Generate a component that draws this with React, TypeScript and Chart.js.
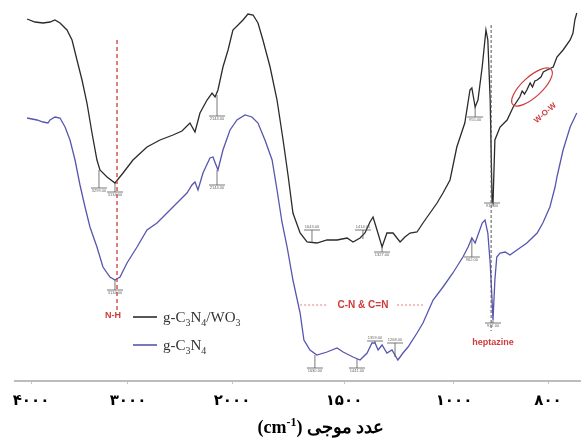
import React, { useEffect, useRef } from 'react';
import { Chart, LinearScale, registerables } from 'chart.js';

// ---------------- data ----------------
const X_TICKS = [4000, 3000, 2000, 1500, 1000, 800];
// the printed axis is not linear: tick labels are spaced almost evenly
const X_KNOT_VALUES = [4165, 4000, 3000, 2000, 1500, 1000, 800, 730];
const X_KNOT_FRACTIONS = [0, 0.0283, 0.1996, 0.3834, 0.5813, 0.7756, 0.9417, 1];

// g-C3N4/WO3 (black)
const COMPOSITE_WAVENUMBER = [
  4041, 3959, 3876, 3804, 3753, 3701, 3629, 3577, 3526, 3474, 3423, 3371, 3320, 3289, 3216, 3134,
  3051, 2952, 2817, 2692, 2567, 2481, 2404, 2356, 2308, 2240, 2192, 2163, 2135, 2087, 2038, 1996,
  1973, 1951, 1929, 1906, 1884, 1862, 1830, 1799, 1772, 1750, 1728, 1696, 1665, 1621, 1576, 1531,
  1486, 1459, 1427, 1405, 1382, 1368, 1350, 1327, 1305, 1277, 1245, 1223, 1200, 1168, 1141, 1109,
  1077, 1050, 1018, 994, 977, 966, 962, 955, 949, 940, 932, 928, 923, 919, 917, 913, 902, 887, 874,
  860, 855, 850, 845, 838, 833, 828, 823, 815, 810, 802, 789, 781, 768, 753, 747, 743, 739,
];
const COMPOSITE_T = [
  362, 359, 358, 359, 361, 358, 351, 341, 321, 301, 278, 248, 221, 211, 204, 198,
  208, 221, 234, 241, 246, 250, 258, 249, 268, 281, 288, 284, 291, 314, 331, 351,
  356, 361, 367, 366, 358, 341, 314, 281, 241, 206, 168, 148, 139, 138, 141, 141,
  143, 139, 143, 148, 159, 164, 151, 134, 148, 148, 139, 144, 148, 149, 158, 168,
  178, 188, 201, 234, 258, 291, 293, 274, 281, 314, 351, 341, 281, 181, 178, 241, 254, 261, 274,
  284, 290, 287, 291, 298, 294, 300, 301, 304, 309, 311, 314, 324, 331, 341, 348, 361, 368,
];

// g-C3N4 (blue)
const PURE_WAVENUMBER = [
  4041, 3938, 3876, 3825, 3804, 3753, 3701, 3649, 3598, 3546, 3495, 3443, 3392, 3320, 3258, 3186,
  3134, 3082, 3010, 2913, 2817, 2721, 2625, 2529, 2433, 2385, 2356, 2327, 2279, 2212, 2183, 2135,
  2087, 2019, 1978, 1942, 1911, 1884, 1853, 1821, 1799, 1777, 1754, 1728, 1696, 1679, 1652, 1621,
  1576, 1531, 1504, 1459, 1427, 1395, 1373, 1359, 1345, 1327, 1305, 1282, 1255, 1232, 1209, 1168,
  1141, 1109, 1095, 1050, 1005, 981, 970, 962, 955, 949, 940, 934, 928, 923, 919, 917, 913, 909,
  902, 891, 881, 866, 845, 823, 811, 796, 785, 781, 768, 753, 739,
];
const PURE_T = [
  263, 261, 259, 258, 261, 264, 263, 254, 241, 221, 196, 174, 154, 134, 114, 104,
  101, 104, 118, 134, 151, 158, 168, 178, 188, 196, 199, 191, 208, 223, 224, 211,
  231, 251, 261, 266, 264, 258, 241, 221, 191, 159, 134, 101, 68, 41, 31, 26,
  29, 33, 29, 24, 21, 28, 38, 38, 31, 36, 28, 31, 21, 28, 34, 48,
  58, 74, 81, 94, 108, 124, 134, 143, 138, 146, 158, 161, 148, 118, 81, 61, 101, 124,
  128, 129, 126, 131, 138, 148, 158, 174, 194, 204, 231, 254, 268,
];

// small peak markers: wavenumber, curve value, bar value
const COMPOSITE_PEAK_X = [3299, 3134, 2144, 1643, 1414, 1327, 955, 919];
const COMPOSITE_PEAK_CURVE = [211, 198, 286, 139, 142, 134, 274, 181];
const COMPOSITE_PEAK_BAR = [193, 189, 265, 151, 151, 129, 264, 178];
const PURE_PEAK_X = [3134, 2144, 1630, 1441, 1359, 1268, 962, 917];
const PURE_PEAK_CURVE = [101, 211, 26, 22, 38, 24, 143, 61];
const PURE_PEAK_BAR = [91, 196, 13, 13, 40, 38, 124, 58];

// band assignments
const NH_BAND = 3113;
const HEPTAZINE_BAND = 921;
const BAND_TEXTS = ['N-H', 'C-N & C=N', 'heptazine'];
const BAND_TEXT_X = [3155, 1414, 917];
const BAND_TEXT_Y = [65, 76, 38];
const WOW_CENTER_X = 834;
const WOW_CENTER_Y = 294;
const WOW_TEXT_X = 806;
const WOW_TEXT_Y = 268;

const SERIES_NAMES = ['g-C3N4/WO3', 'g-C3N4'];

// ---------------- styles ----------------
const BLACK = '#2b2b2b';
const BLUE = '#5656b0';
const RED = '#d03a3a';
const SERIF = "'Liberation Serif', 'Times New Roman', serif";
const SANS = "'Liberation Sans', Arial, sans-serif";

const PERSIAN_DIGITS = '۰۱۲۳۴۵۶۷۸۹';
const toPersian = (v: number | string) =>
  String(v).replace(/\d/g, (d) => PERSIAN_DIGITS[Number(d)]);

function valueToFraction(v: number): number {
  const kv = X_KNOT_VALUES;
  const kf = X_KNOT_FRACTIONS;
  let i = 0;
  if (v <= kv[kv.length - 1]) i = kv.length - 2;
  else if (v < kv[0]) {
    while (i < kv.length - 2 && v < kv[i + 1]) i++;
  }
  const t = (v - kv[i]) / (kv[i + 1] - kv[i]);
  return kf[i] + t * (kf[i + 1] - kf[i]);
}

function fractionToValue(f: number): number {
  const kv = X_KNOT_VALUES;
  const kf = X_KNOT_FRACTIONS;
  let i = 0;
  if (f >= kf[kf.length - 1]) i = kf.length - 2;
  else if (f > kf[0]) {
    while (i < kf.length - 2 && f > kf[i + 1]) i++;
  }
  const t = (f - kf[i]) / (kf[i + 1] - kf[i]);
  return kv[i] + t * (kv[i + 1] - kv[i]);
}

class PiecewiseScale extends LinearScale {
  static id = 'piecewise';
  static defaults = LinearScale.defaults;
  getPixelForValue(value: number) {
    return (this as any).getPixelForDecimal(valueToFraction(value));
  }
  getValueForPixel(pixel: number) {
    return fractionToValue((this as any).getDecimalForPixel(pixel));
  }
}

Chart.register(...registerables, PiecewiseScale as any);

type Part = [string, 'n' | 'sub' | 'sup'];

function drawRich(
  ctx: CanvasRenderingContext2D,
  x: number,
  y: number,
  parts: Part[],
  size: number,
  family: string,
  weight: string,
  align: 'left' | 'center'
) {
  const fontFor = (k: string) =>
    `${weight} ${k === 'n' ? size : Math.round(size * 0.66)}px ${family}`;
  let total = 0;
  for (const [t, k] of parts) {
    ctx.font = fontFor(k);
    total += ctx.measureText(t).width;
  }
  let cx = align === 'center' ? x - total / 2 : x;
  ctx.textAlign = 'left';
  ctx.textBaseline = 'alphabetic';
  for (const [t, k] of parts) {
    ctx.font = fontFor(k);
    const dy = k === 'sub' ? size * 0.28 : k === 'sup' ? -size * 0.4 : 0;
    ctx.fillText(t, cx, y + dy);
    cx += ctx.measureText(t).width;
  }
}

const decorPlugin = {
  id: 'ftirDecor',
  afterDatasetsDraw(chart: any) {
    const { ctx, chartArea } = chart;
    const xs = chart.scales.x;
    const ys = chart.scales.y;
    const px = (v: number) => xs.getPixelForValue(v);
    const py = (v: number) => ys.getPixelForValue(v);
    ctx.save();

    // dashed band lines
    ctx.lineWidth = 1.3;
    ctx.strokeStyle = RED;
    ctx.setLineDash([4, 3]);
    ctx.beginPath();
    ctx.moveTo(px(NH_BAND), py(341));
    ctx.lineTo(px(NH_BAND), py(70));
    ctx.stroke();

    ctx.strokeStyle = '#555';
    ctx.lineWidth = 1;
    ctx.setLineDash([3, 2]);
    ctx.beginPath();
    ctx.moveTo(px(HEPTAZINE_BAND), py(356));
    ctx.lineTo(px(HEPTAZINE_BAND), py(50));
    ctx.stroke();

    // C-N dashes on both sides of the label
    ctx.strokeStyle = '#e08080';
    ctx.lineWidth = 1;
    ctx.setLineDash([2, 2]);
    ctx.beginPath();
    ctx.moveTo(px(1696), py(BAND_TEXT_Y[1]));
    ctx.lineTo(px(1571), py(BAND_TEXT_Y[1]));
    ctx.moveTo(px(1259), py(BAND_TEXT_Y[1]));
    ctx.lineTo(px(1141), py(BAND_TEXT_Y[1]));
    ctx.stroke();
    ctx.setLineDash([]);

    // peak markers
    const drawMarks = (xv: number[], cv: number[], bv: number[]) => {
      ctx.strokeStyle = '#555';
      ctx.fillStyle = '#666';
      ctx.lineWidth = 0.8;
      ctx.font = `4px ${SANS}`;
      ctx.textAlign = 'center';
      for (let i = 0; i < xv.length; i++) {
        const x = px(xv[i]);
        const y1 = py(cv[i]);
        const y2 = py(bv[i]);
        ctx.beginPath();
        ctx.moveTo(x, y1);
        ctx.lineTo(x, y2);
        ctx.moveTo(x - 8, y2);
        ctx.lineTo(x + 8, y2);
        ctx.stroke();
        const below = y2 >= y1;
        ctx.textBaseline = below ? 'top' : 'bottom';
        ctx.fillText(xv[i].toFixed(2), x, below ? y2 + 1 : y2 - 1);
      }
    };
    drawMarks(COMPOSITE_PEAK_X, COMPOSITE_PEAK_CURVE, COMPOSITE_PEAK_BAR);
    drawMarks(PURE_PEAK_X, PURE_PEAK_CURVE, PURE_PEAK_BAR);

    // band labels
    ctx.fillStyle = RED;
    ctx.textAlign = 'center';
    ctx.textBaseline = 'middle';
    const sizes = [9, 10, 9];
    BAND_TEXTS.forEach((t, i) => {
      ctx.font = `bold ${sizes[i]}px ${SANS}`;
      ctx.fillText(t, px(BAND_TEXT_X[i]), py(BAND_TEXT_Y[i]));
    });

    // W-O-W ellipse and label
    ctx.strokeStyle = RED;
    ctx.lineWidth = 1.2;
    ctx.beginPath();
    ctx.ellipse(px(WOW_CENTER_X), py(WOW_CENTER_Y), 26, 10, -0.74, 0, Math.PI * 2);
    ctx.stroke();
    ctx.save();
    ctx.translate(px(WOW_TEXT_X), py(WOW_TEXT_Y));
    ctx.rotate(-0.72);
    ctx.font = `bold 8px ${SANS}`;
    ctx.fillStyle = RED;
    ctx.fillText('W-O-W', 0, 0);
    ctx.restore();

    // legend
    const lx = chartArea.left + 118;
    const rows = [
      { color: BLACK, y: 317, parts: [['g-C', 'n'], ['3', 'sub'], ['N', 'n'], ['4', 'sub'], ['/WO', 'n'], ['3', 'sub']] as Part[] },
      { color: BLUE, y: 345, parts: [['g-C', 'n'], ['3', 'sub'], ['N', 'n'], ['4', 'sub']] as Part[] },
    ];
    rows.forEach((r) => {
      ctx.strokeStyle = r.color;
      ctx.lineWidth = 1.6;
      ctx.beginPath();
      ctx.moveTo(lx, r.y);
      ctx.lineTo(lx + 24, r.y);
      ctx.stroke();
      ctx.fillStyle = '#333';
      drawRich(ctx, lx + 30, r.y + 5, r.parts, 15, SERIF, 'normal', 'left');
    });

    // axis title
    ctx.fillStyle = '#000';
    drawRich(
      ctx,
      chartArea.left + 306,
      433,
      [['(cm', 'n'], ['-1', 'sup'], [') ', 'n'], ['عدد موجی', 'n']],
      18,
      SERIF,
      'bold',
      'center'
    );

    ctx.restore();
  },
};

export default function App() {
  const canvasRef = useRef<HTMLCanvasElement | null>(null);

  useEffect(() => {
    if (!canvasRef.current) return;
    const toPoints = (xs: number[], ys: number[]) => xs.map((x, i) => ({ x, y: ys[i] }));
    const chart = new Chart(canvasRef.current, {
      type: 'line',
      data: {
        datasets: [
          {
            label: SERIES_NAMES[0],
            data: toPoints(COMPOSITE_WAVENUMBER, COMPOSITE_T),
            borderColor: BLACK,
            borderWidth: 1.3,
            pointRadius: 0,
            tension: 0,
          },
          {
            label: SERIES_NAMES[1],
            data: toPoints(PURE_WAVENUMBER, PURE_T),
            borderColor: BLUE,
            borderWidth: 1.3,
            pointRadius: 0,
            tension: 0,
          },
        ],
      },
      options: {
        animation: false,
        responsive: false,
        maintainAspectRatio: false,
        devicePixelRatio: 1,
        layout: { padding: { left: 15, right: 0, top: 0, bottom: 0 } },
        plugins: {
          legend: { display: false },
          tooltip: { enabled: false },
          title: { display: false },
        },
        scales: {
          x: {
            type: 'piecewise' as any,
            min: 730,
            max: 4165,
            afterBuildTicks: (scale: any) => {
              scale.ticks = X_TICKS.map((v) => ({ value: v }));
            },
            afterFit: (scale: any) => {
              scale.height = 60;
            },
            grid: {
              display: true,
              drawOnChartArea: false,
              drawTicks: true,
              tickLength: 3,
              color: '#c4c4c4',
            },
            border: { display: true, color: '#bcbcbc', width: 2 },
            ticks: {
              autoSkip: false,
              maxRotation: 0,
              padding: 8,
              color: '#000',
              font: { family: "'DejaVu Sans', serif", size: 15, weight: 'bold' },
              callback: (v: any) => toPersian(v),
            },
          } as any,
          y: { display: false, min: 0, max: 381 },
        },
      },
      plugins: [decorPlugin],
    });
    return () => chart.destroy();
  }, []);

  return (
    <div style={{ position: 'absolute', left: 0, top: 0, width: 581, height: 441, background: '#fff' }}>
      <canvas ref={canvasRef} width={581} height={441} style={{ display: 'block' }} />
    </div>
  );
}
